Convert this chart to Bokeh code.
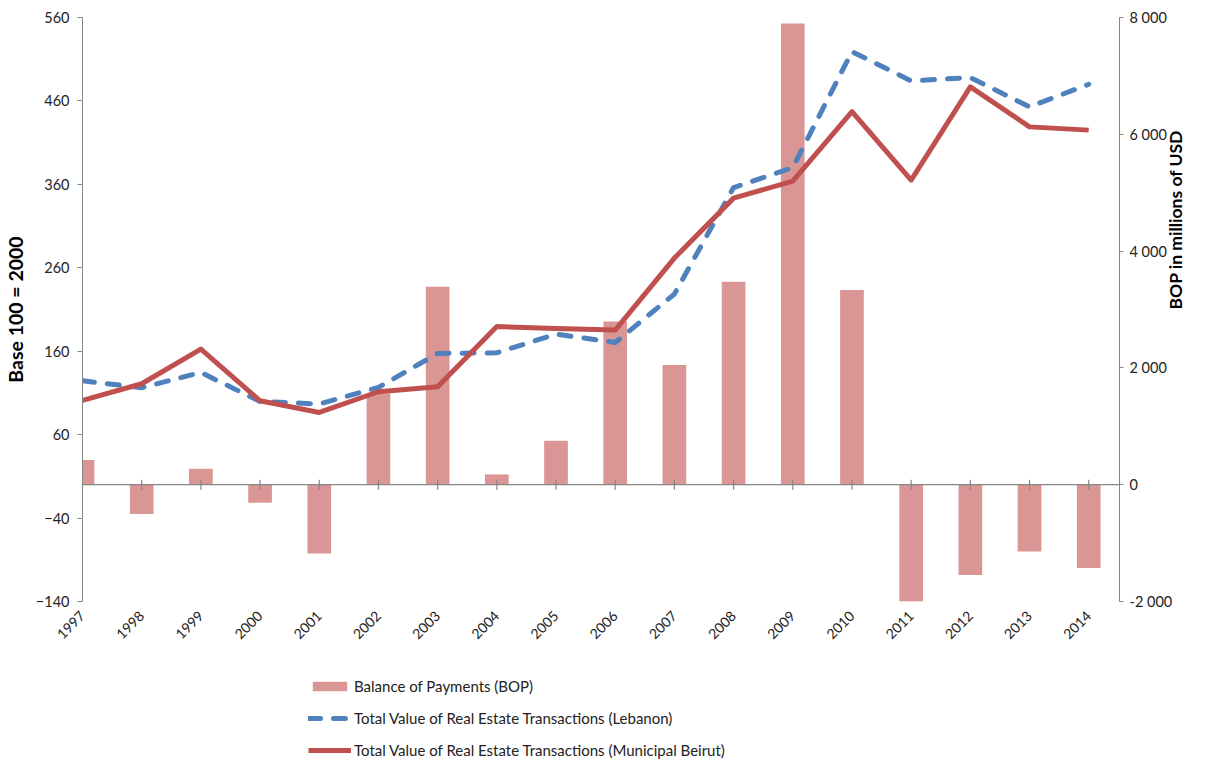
import math
from bokeh.plotting import figure
from bokeh.layouts import column
from bokeh.models import (Range1d, LinearAxis, FixedTicker, Span, Legend, LegendItem)
from bokeh.embed import file_html
from bokeh.resources import INLINE

years = list(range(1997, 2015))
bop = [423, -502, 274, -308, -1176, 1563, 3390, 176, 753, 2796, 2049, 3475, 7898, 3333, -2000, -1546, -1142, -1426]
lebanon = [124.6, 116.2, 134.5, 99.8, 96.7, 116.6, 157.3, 158.1, 180.5, 170.5, 228.5, 356.2, 380.1, 519.1, 484, 488, 452.9, 480]
beirut = [101, 121, 162.6, 100.6, 86.6, 111.4, 117.4, 189.6, 187.3, 185.3, 271.6, 343.5, 363.8, 447.2, 365, 476.8, 428.9, 425]

left_ticks = [-140, -40, 60, 160, 260, 360, 460, 560]
right_ticks = [-2000, 0, 2000, 4000, 6000, 8000]
right_labels = ["-2 000", "0", "2 000", "4 000", "6 000", "8 000"]
series_names = ["Balance of Payments (BOP)",
                "Total Value of Real Estate Transactions (Lebanon)",
                "Total Value of Real Estate Transactions (Municipal Beirut)"]

FONT = "Lato"
TXT = "#222222"
AX = "#868686"
BAR_C = "#D99694"
BLUE = "#4F81BD"
RED = "#C0504D"

p = figure(width=1201, height=652, output_backend="svg", toolbar_location=None,
           x_range=Range1d(1997, 2014.52), y_range=Range1d(-140, 560),
           min_border_left=75, min_border_right=82, min_border_top=17, min_border_bottom=51)
p.outline_line_color = None
p.xgrid.visible = False
p.ygrid.visible = False
p.extra_y_ranges = {"bop": Range1d(-2000, 8000)}

# bars
p.vbar(x=years, top=bop, bottom=0, width=0.4, y_range_name="bop",
       fill_color=BAR_C, line_color=None)

# zero axis line with ticks
p.add_layout(Span(location=0, dimension="width", line_color=AX, line_width=1.3))
p.scatter(x=years[1:], y=[0] * (len(years) - 1), marker="dash", angle=math.pi / 2,
          size=10, line_color=AX, line_width=1.2)

p.line(years, lebanon, line_color=BLUE, line_width=5, line_dash="12 13",
       line_cap="round", line_join="round")
p.line(years, beirut, line_color=RED, line_width=5, line_join="round")

# x axis (labels only)
xa = p.xaxis[0]
xa.ticker = FixedTicker(ticks=years)
xa.axis_line_color = None
xa.major_tick_line_color = None
xa.minor_tick_line_color = None
xa.major_label_orientation = math.pi / 4
xa.major_label_text_font = FONT
xa.major_label_text_font_size = "14px"
xa.major_label_text_color = TXT
xa.major_label_standoff = 6

# left axis
ya = p.yaxis[0]
ya.ticker = FixedTicker(ticks=left_ticks)
ya.axis_line_color = AX
ya.major_tick_line_color = AX
ya.major_tick_in = 0
ya.major_tick_out = 5
ya.minor_tick_line_color = None
ya.major_label_text_font = FONT
ya.major_label_text_font_size = "14.5px"
ya.major_label_text_color = TXT
ya.major_label_standoff = 8
ya.axis_label = "Base 100 = 2000"
ya.axis_label_text_font = FONT
ya.axis_label_text_font_style = "bold"
ya.axis_label_text_font_size = "19.5px"
ya.axis_label_text_color = "#000000"
ya.axis_label_standoff = 6

# right axis
ra = LinearAxis(y_range_name="bop", ticker=FixedTicker(ticks=right_ticks))
ra.major_label_overrides = {t: l for t, l in zip(right_ticks, right_labels)}
ra.axis_line_color = AX
ra.major_tick_line_color = AX
ra.major_tick_in = 0
ra.major_tick_out = 4
ra.minor_tick_line_color = None
ra.major_label_text_font = FONT
ra.major_label_text_font_size = "14.5px"
ra.major_label_text_color = TXT
ra.major_label_standoff = 6
ra.axis_label = "BOP in millions of USD"
ra.axis_label_orientation = math.pi / 2
ra.axis_label_text_font = FONT
ra.axis_label_text_font_style = "bold"
ra.axis_label_text_font_size = "17.5px"
ra.axis_label_text_color = "#000000"
ra.axis_label_standoff = 0
p.add_layout(ra, "right")

# legend strip below the chart (hidden copies of the series supply the swatches)
lg = figure(width=1201, height=108, output_backend="svg", toolbar_location=None,
            x_range=Range1d(1997, 2014.52), y_range=Range1d(-140, 560),
            x_axis_location=None, y_axis_location=None,
            min_border_left=0, min_border_right=0, min_border_top=0, min_border_bottom=0)
lg.grid.visible = False
lg.outline_line_color = None
lg.extra_y_ranges = {"bop": Range1d(-2000, 8000)}
r_bar = lg.vbar(x=years, top=bop, bottom=0, width=0.4, y_range_name="bop",
                fill_color=BAR_C, line_color=None, visible=False)
r_leb = lg.line(years, lebanon, line_color=BLUE, line_width=5, line_dash="12 13",
                line_cap="round", visible=False)
r_bei = lg.line(years, beirut, line_color=RED, line_width=5, visible=False)

legend = Legend(items=[LegendItem(label=n, renderers=[r]) for n, r in
                       zip(series_names, [r_bar, r_leb, r_bei])],
                location=(226, -1), orientation="vertical")
legend.border_line_color = None
legend.background_fill_alpha = 0
legend.inactive_fill_alpha = 0
legend.padding = 0
legend.margin = 0
legend.spacing = 10
legend.glyph_width = 43
legend.glyph_height = 12
legend.label_height = 22
legend.label_standoff = 3
legend.label_text_font = FONT
legend.label_text_font_size = "15px"
legend.label_text_color = TXT
lg.add_layout(legend, "center")

layout = column(p, lg, spacing=0)
open("out.html", "w").write(file_html(layout, INLINE))
